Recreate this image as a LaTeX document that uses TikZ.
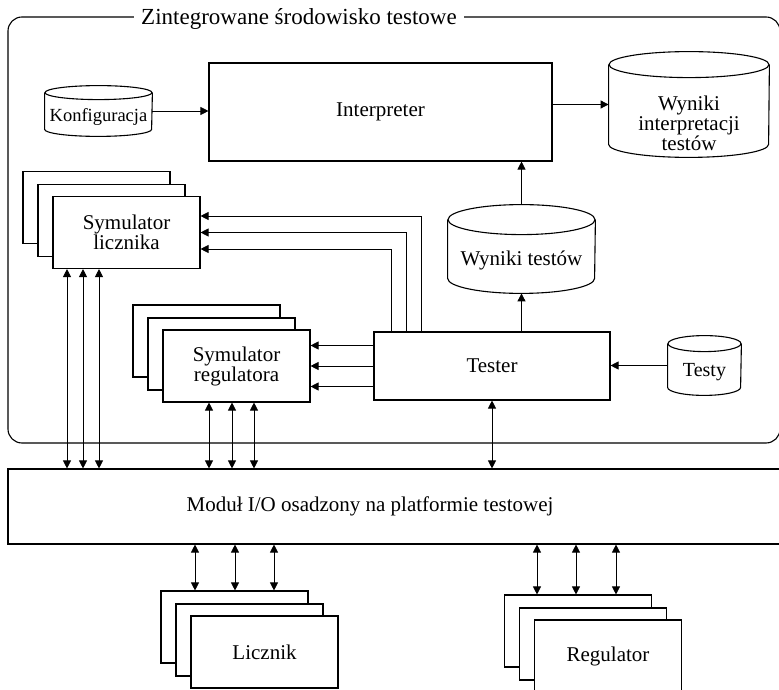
\documentclass[tikz,border=0pt]{standalone}
\usepackage{fontspec}
\setmainfont{Liberation Serif}
\usetikzlibrary{positioning, arrows.meta, shadows}

% baza danych: nazwa, srodek, szerokosc, wysokosc, ry, przesuniecie tekstu, tekst
\newcommand{\baza}[7]{%
  \node[minimum width=#3pt, minimum height=#4pt, inner sep=0pt] (#1) at #2 {};
  \draw[ramka] ([yshift=-#5pt]#1.north west) -- ([yshift=#5pt]#1.south west)
    arc[start angle=180, end angle=360, x radius=#3/2, y radius=#5]
    -- ([yshift=-#5pt]#1.north east);
  \draw[ramka] ([yshift=-#5pt]#1.north) ellipse [x radius=#3/2, y radius=#5];
  \node[align=center] (#1tekst) at ([yshift=#6pt]#1.center) {#7};
}

\begin{document}
\begin{tikzpicture}[
x=1pt, y=1pt, thick, >={Triangle[length=8pt,width=8pt]},
ramka/.style={draw, line width=1.1pt},
blok/.style={ramka, fill=white, align=center},
stos/.style={blok, minimum width=147pt, minimum height=72pt,
  copy shadow={shadow xshift=-30pt, shadow yshift=25pt, draw=black, fill=white, line width=1.1pt},
  copy shadow={shadow xshift=-15pt, shadow yshift=12pt, draw=black, fill=white, line width=1.1pt}}]
\tikzstyle{every node}=[font=\fontsize{21}{20}\selectfont]
\useasboundingbox (0,0) rectangle (779,689);
\clip (0,0) rectangle (779,689);
% ramka srodowiska
\node[ramka, rounded corners=14pt, minimum width=772pt, minimum height=426pt] (srodowisko) at (394,459) {};
\node[fill=white, inner xsep=7pt, anchor=base, font=\fontsize{23}{23}\selectfont] (tytul) at (299,664) {Zintegrowane środowisko testowe};
% bloki
\node[blok, minimum width=343pt, minimum height=98pt] (interp) at (380.5,577) {Interpreter};
\node[blok, minimum width=236pt, minimum height=68pt] (tester) at (492,323) {Tester};
\node[stos] (symLicz) at (126.5,456.5) {Symulator\\licznika};
\node[stos] (symReg) at (236.5,323) {Symulator\\regulatora};
\node[blok, minimum width=772pt, minimum height=75pt,
  label={[xshift=-24pt]center:Moduł I/O osadzony na platformie testowej}] (modul) at (394,182.5) {};
\node[stos] (licznik) at (264.5,37) {Licznik};
\node[stos] (regulator) at (608,33) {Regulator};
% bazy
\baza{konf}{(98.5,578)}{107}{50}{7}{-6}{\fontsize{18.5}{18}\selectfont Konfiguracja}
\baza{wynInt}{(689,584.5)}{160}{105}{13}{-19}{Wyniki\\interpretacji\\testów}
\baza{wynTest}{(521.5,440)}{147}{88}{15}{-11}{Wyniki testów}
\baza{testy}{(704.5,323.5)}{73}{59}{8}{-7}{\fontsize{20}{20}\selectfont Testy}
% polaczenia
\draw[->] (konf.east) -- (konf.east -| interp.west);
\draw[->] (interp.east |- wynInt) -- (wynInt.west);
\draw[->] (testy.west) -- (testy.west -| tester.east);
\draw[->] (tester.north -| wynTest) -- (wynTest.south);
\draw[->] (wynTest.north) -- (wynTest.north |- interp.south);
\draw[<->] (tester.south) -- (tester.south |- modul.north);
\draw[->] ([xshift=48pt]tester.north west) |- ([yshift=16.5pt]symLicz.east);
\draw[->] ([xshift=33pt]tester.north west) |- (symLicz.east);
\draw[->] ([xshift=18pt]tester.north west) |- ([yshift=-16.5pt]symLicz.east);
\draw[->] ([yshift=20.5pt]tester.west) -- ([yshift=20.5pt]symReg.east);
\draw[->] (tester.west) -- (symReg.east);
\draw[->] ([yshift=-20.5pt]tester.west) -- ([yshift=-20.5pt]symReg.east);
\draw[<->] ([xshift=-59.5pt]symLicz.south) -- ([xshift=-59.5pt]symLicz.south |- modul.north);
\draw[<->] ([xshift=-43.5pt]symLicz.south) -- ([xshift=-43.5pt]symLicz.south |- modul.north);
\draw[<->] ([xshift=-27.5pt]symLicz.south) -- ([xshift=-27.5pt]symLicz.south |- modul.north);
\draw[<->] ([xshift=-27.5pt]symReg.south) -- ([xshift=-27.5pt]symReg.south |- modul.north);
\draw[<->] ([xshift=-4.5pt]symReg.south) -- ([xshift=-4.5pt]symReg.south |- modul.north);
\draw[<->] ([xshift=17.5pt]symReg.south) -- ([xshift=17.5pt]symReg.south |- modul.north);
\draw[<->] ([xshift=-69.5pt]licznik.north |- modul.south) -- ([xshift=-69.5pt,yshift=25pt]licznik.north);
\draw[<->] ([xshift=-29.5pt]licznik.north |- modul.south) -- ([xshift=-29.5pt,yshift=25pt]licznik.north);
\draw[<->] ([xshift=9.5pt]licznik.north |- modul.south) -- ([xshift=9.5pt,yshift=25pt]licznik.north);
\draw[<->] ([xshift=-71pt]regulator.north |- modul.south) -- ([xshift=-71pt,yshift=25pt]regulator.north);
\draw[<->] ([xshift=-32pt]regulator.north |- modul.south) -- ([xshift=-32pt,yshift=25pt]regulator.north);
\draw[<->] ([xshift=8pt]regulator.north |- modul.south) -- ([xshift=8pt,yshift=25pt]regulator.north);
\end{tikzpicture}
\end{document}
